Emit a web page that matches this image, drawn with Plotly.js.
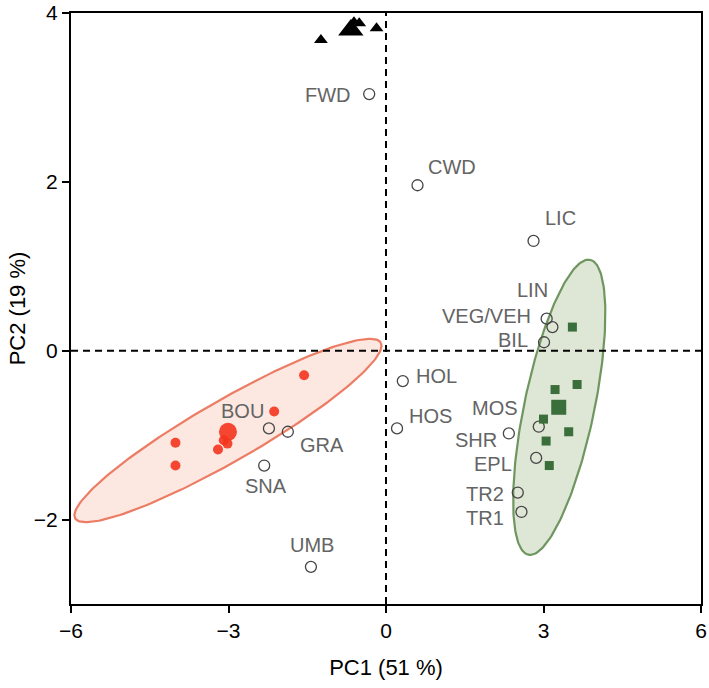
<!DOCTYPE html>
<html>
<head>
<meta charset="utf-8">
<script src="https://cdn.plot.ly/plotly-3.0.1.min.js"></script>
<style>html,body{margin:0;padding:0;background:#fff;}#chart{width:709px;height:688px;}</style>
</head>
<body>
<div id="chart"></div>
<script>
// ---- data ----
var varLabels = ["FWD","CWD","LIC","LIN","VEG/VEH","BIL","HOL","HOS","MOS","SHR","EPL","TR2","TR1","BOU","GRA","SNA","UMB"];
var varX = [-0.32, 0.60, 2.81, 3.06, 3.17, 3.01, 0.32, 0.21, 2.91, 2.34, 2.86, 2.51, 2.58, -2.23, -1.87, -2.32, -1.43];
var varY = [3.04, 1.96, 1.30, 0.38, 0.28, 0.10, -0.36, -0.92, -0.90, -0.98, -1.27, -1.68, -1.91, -0.92, -0.96, -1.36, -2.56];

var redX = [-1.56, -2.13, -3.09, -3.02, -3.20, -4.01, -4.01];
var redY = [-0.29, -0.72, -1.06, -1.10, -1.17, -1.09, -1.36];
var redCentroidX = [-3.01];
var redCentroidY = [-0.96];

var greenX = [3.55, 3.64, 3.22, 3.00, 3.48, 3.05, 3.11];
var greenY = [0.28, -0.40, -0.46, -0.81, -0.96, -1.07, -1.36];
var greenCentroidX = [3.29];
var greenCentroidY = [-0.67];

var blackX = [-1.24, -0.61, -0.51, -0.18];
var blackY = [3.68, 3.89, 3.88, 3.82];
var blackCentroidX = [-0.67];
var blackCentroidY = [3.80];

// confidence ellipses: centre and two conjugate half-axes (data units)
var redEllipse = {cx: -3.01, cy: -0.945, ux: 2.910, uy: 1.040, vx: 0.290, vy: -0.313};
var greenEllipse = {cx: 3.30, cy: -0.67, ux: 0.587, uy: 1.747, vx: 0.653, vy: -0.084};

var xTicks = [-6, -3, 0, 3, 6];
var yTicks = [-2, 0, 2, 4];

// ---- label offsets (pixels, relative to the point; +y up) ----
var labelShift = {
  "FWD": [-41, -1], "CWD": [34, 18], "LIC": [27, 23], "LIN": [-14, 29],
  "VEG/VEH": [-66, 11], "BIL": [-31, 2], "HOL": [34, 5], "HOS": [33, 12],
  "MOS": [-44, 19], "SHR": [-33, -7], "EPL": [-43, -6], "TR2": [-33, -1],
  "TR1": [-36, -6], "BOU": [-26, 17], "GRA": [34, -13], "SNA": [2, -20], "UMB": [1, 22]
};

function ellipsePts(e) {
  var xs = [], ys = [], n = 200;
  for (var i = 0; i <= n; i++) {
    var t = 2 * Math.PI * i / n;
    xs.push(e.cx + e.ux * Math.cos(t) + e.vx * Math.sin(t));
    ys.push(e.cy + e.uy * Math.cos(t) + e.vy * Math.sin(t));
  }
  return {x: xs, y: ys};
}
var re = ellipsePts(redEllipse), ge = ellipsePts(greenEllipse);

var FONT = 'Liberation Sans, Arial, sans-serif';

var traces = [
  {x: re.x, y: re.y, mode: 'lines', fill: 'toself', fillcolor: 'rgba(252,228,220,0.85)',
   line: {color: 'rgb(236,125,100)', width: 2.2}, hoverinfo: 'skip'},
  {x: ge.x, y: ge.y, mode: 'lines', fill: 'toself', fillcolor: 'rgba(222,230,214,1)',
   line: {color: 'rgb(112,150,96)', width: 2.2}, hoverinfo: 'skip'},
  {x: [-6, 6], y: [0, 0], mode: 'lines', line: {color: '#000', width: 2, dash: '7px,5px'}, hoverinfo: 'skip'},
  {x: [0, 0], y: [-3, 4], mode: 'lines', line: {color: '#000', width: 2, dash: '7px,5px'}, hoverinfo: 'skip'},
  {x: varX, y: varY, mode: 'markers', marker: {symbol: 'circle-open', size: 11, color: 'rgb(70,70,70)', line: {width: 1.3}}},
  {x: redX, y: redY, mode: 'markers', marker: {symbol: 'circle', size: 10, color: 'rgba(244,52,30,0.9)', line: {width: 0}}},
  {x: redCentroidX, y: redCentroidY, mode: 'markers', marker: {symbol: 'circle', size: 18, color: 'rgba(244,52,30,0.9)', line: {width: 0}}},
  {x: greenX, y: greenY, mode: 'markers', marker: {symbol: 'square', size: 9, color: 'rgb(58,110,58)', line: {width: 0}}},
  {x: greenCentroidX, y: greenCentroidY, mode: 'markers', marker: {symbol: 'square', size: 15, color: 'rgb(58,110,58)', line: {width: 0}}},
  {x: blackX, y: blackY, mode: 'markers', marker: {symbol: 'triangle-up', size: 12, color: '#000', line: {width: 0}}},
  {x: blackCentroidX, y: blackCentroidY, mode: 'markers', marker: {symbol: 'triangle-up', size: 22, color: '#000', line: {width: 0}}}
];

var annotations = varLabels.map(function (lab, i) {
  var s = labelShift[lab] || [0, 0];
  return {x: varX[i], y: varY[i], text: lab, showarrow: false, xanchor: 'center', yanchor: 'middle',
          xshift: s[0], yshift: s[1], font: {family: FONT, size: 20, color: 'rgb(100,100,100)'}};
});

var axisCommon = {
  showgrid: false, zeroline: false, showline: true, linecolor: '#000', linewidth: 2, mirror: true,
  ticks: 'outside', ticklen: 7, tickwidth: 2, tickcolor: '#000',
  tickfont: {family: FONT, size: 21, color: '#000'}
};

var layout = {
  width: 709, height: 688,
  margin: {l: 71, r: 8, t: 13, b: 84},
  paper_bgcolor: '#fff', plot_bgcolor: '#fff',
  showlegend: false,
  xaxis: Object.assign({}, axisCommon, {range: [-6, 6], tickvals: xTicks,
    title: {text: 'PC1 (51 %)', font: {family: FONT, size: 22, color: '#000'}, standoff: 18}}),
  yaxis: Object.assign({}, axisCommon, {range: [-3, 4], tickvals: yTicks,
    title: {text: 'PC2 (19 %)', font: {family: FONT, size: 22, color: '#000'}, standoff: 2}}),
  annotations: annotations
};

Plotly.newPlot('chart', traces, layout, {displayModeBar: false, staticPlot: true});
</script>
</body>
</html>
